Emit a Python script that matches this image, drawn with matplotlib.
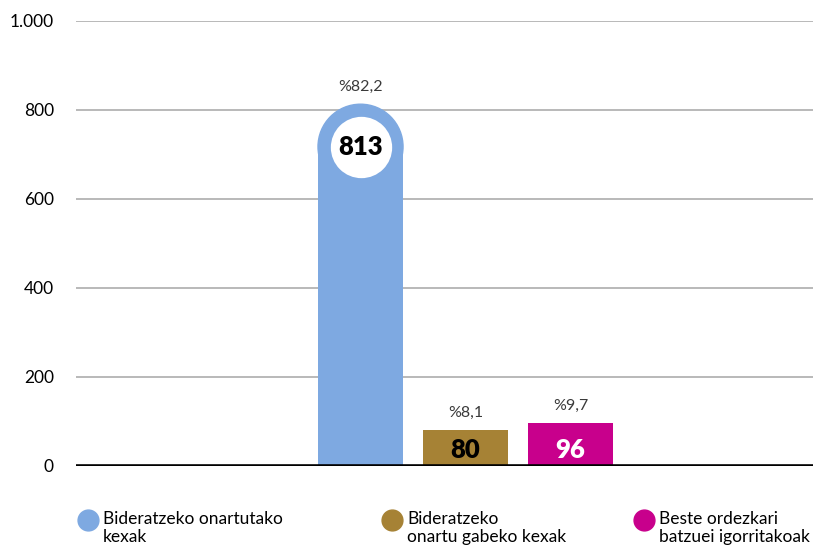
import matplotlib
matplotlib.use("Agg")
import matplotlib.pyplot as plt
from matplotlib.lines import Line2D
from matplotlib.patches import Ellipse

plt.rcParams['font.family'] = ['Lato', 'DejaVu Sans']

# data
categories = ['Bideratzeko onartutako\nkexak',
              'Bideratzeko\nonartu gabeko kexak',
              'Beste ordezkari\nbatzuei igorritakoak']
values = [813, 80, 96]
percents = ['%82,2', '%8,1', '%9,7']
colors = ['#7EA9E1', '#A68235', '#C8008C']
value_colors = ['black', 'black', 'white']
yticks = [0, 200, 400, 600, 800, 1000]
ytick_labels = ['0', '200', '400', '600', '800', '1.000']

fig = plt.figure(figsize=(8.13, 5.45), dpi=100)
ax = fig.add_axes([0.0935, 0.145, 0.9065, 0.8165])
ax.set_xlim(-2.71, 4.31)
ax.set_ylim(0, 1000)

# gridlines
for t in yticks[1:]:
    ax.axhline(t, color='#a6a6a6', lw=1.1, zorder=0)
ax.axhline(0, color='black', lw=2.6, zorder=5)

width = 0.81
x = list(range(len(values)))

# size of the round cap in data units (so it stays circular on screen)
px_per_unit_y = (0.8165 * 545) / 1000.0
px_per_unit_x = (0.9065 * 813) / (4.31 + 2.71)
r_px = width * px_per_unit_x / 2
r_y = r_px / px_per_unit_y

for i, (v, c) in enumerate(zip(values, colors)):
    if i == 0:
        # rounded-top bar with a white disc holding the value
        cy = v - r_y
        ax.bar(x[i], cy, width=width, color=c, zorder=2)
        ax.add_patch(Ellipse((x[i], cy), width, 2 * r_y, color=c, zorder=2))
        ax.scatter([x[i]], [cy], s=1950, color='white', zorder=3, linewidths=0)
        ax.text(x[i], cy, str(v), ha='center', va='center', fontsize=18.5,
                fontweight='heavy', color=value_colors[i], zorder=4)
    else:
        ax.bar(x[i], v, width=width, color=c, zorder=2)
        ax.text(x[i], 36, str(v), ha='center', va='center', fontsize=18.5,
                fontweight='heavy', color=value_colors[i], zorder=4)
    ax.text(x[i], v + 40, percents[i], ha='center', va='center', fontsize=11.5,
            color='#3a3a3a')

ax.set_yticks(yticks)
ax.set_yticklabels(ytick_labels, fontsize=12.5)
ax.tick_params(axis='y', length=0, pad=16)
ax.set_xticks([])
for s in ax.spines.values():
    s.set_visible(False)

# legend
leg_x = [88, 392, 644]
for lx, lab, c in zip(leg_x, categories, colors):
    fig.add_artist(Line2D([lx / 813], [1 - 520 / 545], marker='o', markersize=15,
                          color=c, linestyle='none'))
    fig.text((lx + 15) / 813, 1 - 511 / 545, lab, ha='left', va='top',
             fontsize=12.5, color='black', linespacing=1.15)

fig.savefig('out.png', dpi=100)
